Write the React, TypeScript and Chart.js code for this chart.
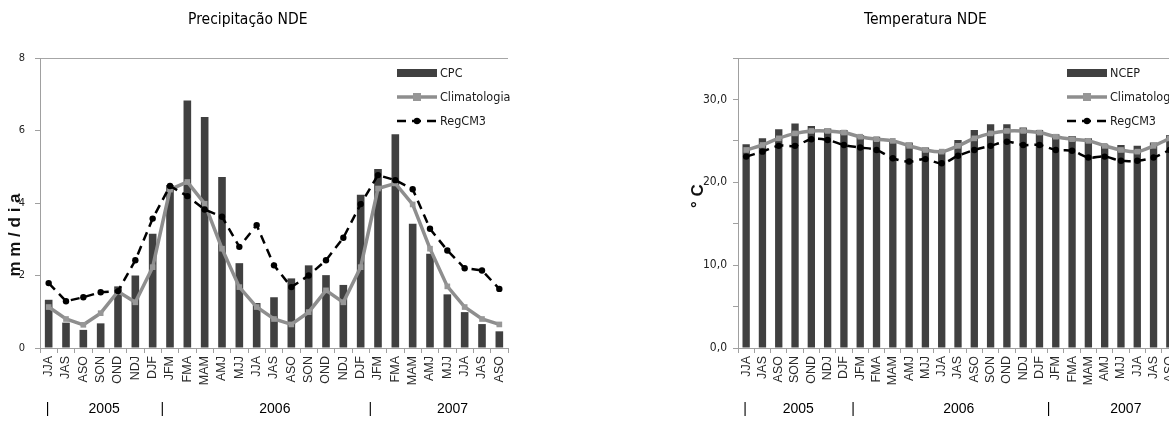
import React, { useEffect, useRef } from 'react';
import { Chart, registerables } from 'chart.js';

Chart.register(...registerables);

const categories = ['JJA', 'JAS', 'ASO', 'SON', 'OND', 'NDJ', 'DJF', 'JFM', 'FMA', 'MAM', 'AMJ', 'MJJ', 'JJA', 'JAS', 'ASO', 'SON', 'OND', 'NDJ', 'DJF', 'JFM', 'FMA', 'MAM', 'AMJ', 'MJJ', 'JJA', 'JAS', 'ASO'];
const yearLabels = ['2005', '2006', '2007'];
const yearStartIndex = [0, 7, 19];

const precipCPC = [1.33, 0.7, 0.5, 0.68, 1.7, 2.0, 3.15, 4.5, 6.83, 6.37, 4.72, 2.34, 1.24, 1.4, 1.92, 2.28, 2.01, 1.74, 4.23, 4.94, 5.9, 3.43, 2.6, 1.48, 0.99, 0.66, 0.46];
const precipClim = [1.13, 0.8, 0.64, 0.96, 1.56, 1.26, 2.23, 4.37, 4.58, 3.98, 2.74, 1.68, 1.13, 0.8, 0.65, 0.99, 1.59, 1.26, 2.23, 4.4, 4.54, 3.96, 2.74, 1.7, 1.13, 0.8, 0.65];
const precipRegCM = [1.79, 1.29, 1.4, 1.54, 1.57, 2.42, 3.57, 4.47, 4.19, 3.82, 3.62, 2.79, 3.39, 2.28, 1.68, 2.0, 2.42, 3.04, 3.97, 4.77, 4.63, 4.38, 3.29, 2.69, 2.2, 2.14, 1.63];

const tempNCEP = [24.6, 25.3, 26.4, 27.1, 26.8, 26.5, 26.3, 25.7, 25.5, 25.1, 24.8, 24.2, 23.7, 25.1, 26.3, 27.0, 27.0, 26.6, 26.3, 25.8, 25.6, 25.3, 24.6, 24.5, 24.4, 24.8, 25.7];
const tempClim = [23.9, 24.5, 25.3, 25.9, 26.2, 26.2, 26.0, 25.5, 25.2, 25.0, 24.4, 23.9, 23.7, 24.4, 25.3, 25.9, 26.2, 26.2, 26.0, 25.5, 25.2, 25.0, 24.4, 23.9, 23.7, 24.4, 25.3];
const tempRegCM = [23.1, 23.7, 24.4, 24.4, 25.2, 25.1, 24.5, 24.2, 23.9, 22.9, 22.5, 22.8, 22.3, 23.2, 23.9, 24.4, 24.9, 24.5, 24.5, 23.9, 23.8, 23.0, 23.1, 22.6, 22.6, 23.0, 23.9];

const NARROW = '"Liberation Sans Narrow", "DejaVu Sans Condensed", "Arial Narrow", sans-serif';
const ARIAL = '"Liberation Sans", Arial, sans-serif';
const BAR = '#404040';
const GRAY = '#8e8e8e';
const AXIS = '#a0a0a0';

type Panel = {
  title: string;
  titleFrac: number;
  yTitle: string;
  yTitleX: number;
  yTitleY: number;
  yTitleFont: string;
  barLabel: string;
  bars: number[];
  clim: number[];
  reg: number[];
  yMax: number;
  yStep: number;
  tickFmt: (v: number) => string;
  tickFontSize: number;
  tickPad: number;
  yAxisWidth: number;
  rightPad: number;
  smooth: number;
  barPct: number;
  width: number;
};

function makeOverlay(p: Panel) {
  return {
    id: 'overlay',
    afterDraw(chart: any) {
      const ctx = chart.ctx as CanvasRenderingContext2D;
      const a = chart.chartArea;
      const xs = chart.scales.x;
      ctx.save();
      ctx.fillStyle = '#000';
      ctx.textAlign = 'center';
      ctx.textBaseline = 'middle';
      ctx.font = `15.5px ${NARROW}`;
      ctx.fillText(p.title, a.left + (a.right - a.left) * p.titleFrac, 20);

      ctx.save();
      ctx.translate(p.yTitleX, p.yTitleY);
      ctx.rotate(-Math.PI / 2);
      ctx.font = p.yTitleFont;
      ctx.fillStyle = '#111';
      ctx.fillText(p.yTitle, 0, 0);
      ctx.restore();

      // legend
      const lx = a.right - 111;
      const rows = [a.top + 15, a.top + 39, a.top + 63];
      ctx.fillStyle = BAR;
      ctx.fillRect(lx, rows[0] - 4, 40, 8);
      ctx.strokeStyle = GRAY;
      ctx.lineWidth = 3.5;
      ctx.beginPath();
      ctx.moveTo(lx, rows[1]);
      ctx.lineTo(lx + 40, rows[1]);
      ctx.stroke();
      ctx.fillStyle = '#979797';
      ctx.fillRect(lx + 16, rows[1] - 4, 8, 8);
      ctx.strokeStyle = '#000';
      ctx.lineWidth = 2.5;
      ctx.setLineDash([9, 6]);
      ctx.beginPath();
      ctx.moveTo(lx, rows[2]);
      ctx.lineTo(lx + 40, rows[2]);
      ctx.stroke();
      ctx.setLineDash([]);
      ctx.fillStyle = '#000';
      ctx.beginPath();
      ctx.arc(lx + 20, rows[2], 3.2, 0, Math.PI * 2);
      ctx.fill();
      ctx.fillStyle = '#1a1a1a';
      ctx.textAlign = 'left';
      ctx.font = `12.5px ${NARROW}`;
      const names = [p.barLabel, 'Climatologia', 'RegCM3'];
      names.forEach((n, i) => ctx.fillText(n, lx + 43, rows[i] + 1));

      // year row
      ctx.textAlign = 'center';
      ctx.font = `14px ${ARIAL}`;
      ctx.fillStyle = '#000';
      const yRow = 409;
      yearStartIndex.forEach((s, i) => {
        const x = i === 0 ? xs.getPixelForValue(0) - 1 : xs.getPixelForValue(s - 0.5) + 1;
        ctx.fillText('|', x, yRow);
      });
      const centerOffsets = [0.2, 0.55, 0.8];
      yearLabels.forEach((y, i) => {
        const s = yearStartIndex[i];
        const e = i + 1 < yearStartIndex.length ? yearStartIndex[i + 1] - 1 : categories.length - 1;
        const x = xs.getPixelForValue((s + e) / 2 + centerOffsets[i]);
        ctx.fillText(y, x, yRow);
      });
      ctx.restore();
    },
  };
}

function PanelChart({ p, left }: { p: Panel; left: number }) {
  const ref = useRef<HTMLCanvasElement>(null);
  useEffect(() => {
    if (!ref.current) return;
    const chart = new Chart(ref.current, {
      data: {
        labels: categories,
        datasets: [
          {
            type: 'bar',
            label: p.barLabel,
            data: p.bars,
            backgroundColor: BAR,
            barPercentage: p.barPct,
            categoryPercentage: 1,
            order: 3,
          } as any,
          {
            type: 'line',
            label: 'Climatologia',
            data: p.clim,
            borderColor: GRAY,
            borderWidth: 3.5,
            pointStyle: 'rect',
            pointRadius: 4,
            pointBackgroundColor: '#979797',
            pointBorderColor: '#979797',
            pointBorderWidth: 0,
            tension: p.smooth,
            order: 2,
          } as any,
          {
            type: 'line',
            label: 'RegCM3',
            data: p.reg,
            borderColor: '#000',
            borderWidth: 2.5,
            borderDash: [9, 6],
            pointRadius: 3.2,
            pointBackgroundColor: '#000',
            pointBorderColor: '#000',
            pointBorderWidth: 0,
            tension: p.smooth,
            order: 1,
          } as any,
        ],
      },
      options: {
        animation: false,
        responsive: false,
        devicePixelRatio: 1,
        layout: { padding: { top: 58, right: p.rightPad, bottom: 0, left: 0 } },
        plugins: { legend: { display: false }, tooltip: { enabled: false }, title: { display: false } },
        scales: {
          x: {
            offset: true,
            grid: {
              offset: true,
              color: 'rgba(0,0,0,0)',
              tickColor: AXIS,
              tickLength: 5,
              drawOnChartArea: false,
            },
            border: { display: true, color: AXIS, width: 1 },
            ticks: {
              autoSkip: false,
              minRotation: 90,
              maxRotation: 90,
              padding: 3,
              color: '#2a2a2a',
              font: { family: ARIAL, size: 12.5 },
            },
            afterFit: (s: any) => {
              s.height = 73;
            },
          },
          y: {
            min: 0,
            max: p.yMax,
            grid: {
              color: (c: any) => (c.tick && c.tick.value === p.yMax ? '#a6a6a6' : 'rgba(0,0,0,0)'),
              tickColor: AXIS,
              tickLength: 5,
            },
            border: { display: true, color: AXIS, width: 1 },
            ticks: {
              stepSize: p.yStep,
              padding: p.tickPad,
              color: '#222',
              font: { family: NARROW, size: p.tickFontSize },
              callback: (v: any) => p.tickFmt(Number(v)),
            },
            afterFit: (s: any) => {
              s.width = p.yAxisWidth;
            },
          },
        },
      },
      plugins: [makeOverlay(p)],
    } as any);
    return () => chart.destroy();
  }, []);
  return (
    <canvas
      ref={ref}
      width={p.width}
      height={421}
      style={{ position: 'absolute', left, top: 0, width: p.width, height: 421 }}
    />
  );
}

const precipPanel: Panel = {
  title: 'Precipitação NDE',
  titleFrac: 0.444,
  yTitle: 'm m / d i a',
  yTitleX: 15,
  yTitleY: 235,
  yTitleFont: `bold 17px ${ARIAL}`,
  barLabel: 'CPC',
  bars: precipCPC,
  clim: precipClim,
  reg: precipRegCM,
  yMax: 8,
  yStep: 2,
  tickFmt: (v) => String(v),
  tickFontSize: 11,
  tickPad: 10,
  yAxisWidth: 40,
  rightPad: 52,
  smooth: 0,
  barPct: 0.44,
  width: 560,
};

const tempPanel: Panel = {
  title: 'Temperatura NDE',
  titleFrac: 0.426,
  yTitle: '° C',
  yTitleX: 58,
  yTitleY: 196,
  yTitleFont: `bold 17px ${ARIAL}`,
  barLabel: 'NCEP',
  bars: tempNCEP,
  clim: tempClim,
  reg: tempRegCM,
  yMax: 35,
  yStep: 5,
  tickFmt: (v) => (v % 10 === 0 ? v.toFixed(1).replace('.', ',') : ''),
  tickFontSize: 12,
  tickPad: 6,
  yAxisWidth: 98,
  rightPad: 62,
  smooth: 0.35,
  barPct: 0.45,
  width: 600,
};

export default function App() {
  return (
    <div
      style={{
        position: 'fixed',
        left: 0,
        top: 0,
        width: 1169,
        height: 421,
        overflow: 'hidden',
        background: '#fff',
      }}
    >
      <PanelChart p={precipPanel} left={0} />
      <PanelChart p={tempPanel} left={640} />
    </div>
  );
}
